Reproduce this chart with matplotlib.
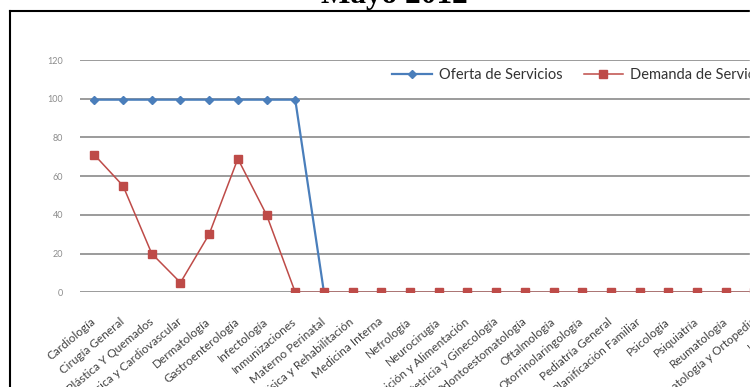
import numpy as np
import matplotlib
matplotlib.use("Agg")
import matplotlib.pyplot as plt
from matplotlib.lines import Line2D
from matplotlib.patches import Rectangle

categorias = [
    "Cardiología", "Cirugía General", "Cirugía Plástica Y Quemados",
    "Cirugía Torácica y Cardiovascular", "Dermatología", "Gastroenterología",
    "Infectología", "Inmunizaciones", "Materno Perinatal",
    "Medicina Física y Rehabilitación", "Medicina Interna", "Nefrología",
    "Neurocirugía", "Nutrición y Alimentación", "Obstetricia y Ginecología",
    "Odontoestomatología", "Oftalmología", "Otorrinolaringología",
    "Pediatría General", "Planificación Familiar", "Psicología",
    "Psiquiatría", "Reumatología", "Traumatología y Ortopedia", "Urología",
]
oferta = [99.5, 99.5, 99.5, 99.5, 99.5, 99.5, 99.5, 99.5, 0]
demanda = [71, 55, 20, 5, 30, 69, 40, 0, 0, 0, 0, 0, 0, 0, 0, 0, 0, 0,
           0, 0, 0, 0, 0, 0, 0]
yticks = [0, 20, 40, 60, 80, 100, 120]

W, H = 756, 387
fig = plt.figure(figsize=(W / 100, H / 100), dpi=100)
fig.patch.set_facecolor("white")

# plot area runs past the right edge of the image
x0, x1 = 80, 797.5
y0, y1 = 292.3, 60
ax = fig.add_axes([x0 / W, (H - y0) / H, (x1 - x0) / W, (y0 - y1) / H])
ax.set_xlim(-0.5, len(categorias) - 0.5)
ax.set_ylim(0, 120)

for v in yticks:
    ax.axhline(v, color="#8a8a8a", lw=1.2, zorder=1)

xs = np.arange(len(categorias))
ax.plot(xs[:len(oferta)], oferta, color="#4a7ebb", lw=1.6, marker="D",
        ms=4, zorder=3, label="Oferta de Servicios")
ax.plot(xs, demanda, color="#be4b48", lw=1.1, marker="s", ms=6,
        zorder=3, label="Demanda de Servicios")

for s in ax.spines.values():
    s.set_visible(False)
ax.set_yticks(yticks)
ax.set_yticklabels([str(v) for v in yticks], fontsize=6.5, color="#8c8c8c",
                   family="Lato")
ax.tick_params(axis="y", length=0, pad=12)
ax.set_xticks(xs)
ax.set_xticklabels(categorias, rotation=40, ha="right", va="center",
                   rotation_mode="anchor", fontsize=8.5, color="#404040",
                   family="Lato")
ax.tick_params(axis="x", length=0, pad=20)

leg = ax.legend(loc="center left", bbox_to_anchor=(0.425, 0.935), ncol=2,
                frameon=False, borderpad=0, handlelength=2.7,
                handletextpad=0.5, columnspacing=1.45,
                prop={"family": "Lato", "size": 10.5})
for t in leg.get_texts():
    t.set_color("#333333")

# chart frame and title
fig.add_artist(Line2D([10 / W, 10 / W], [0, (H - 11) / H], color="black",
                      lw=1.5, transform=fig.transFigure))
fig.add_artist(Line2D([10 / W, 1], [(H - 11) / H, (H - 11) / H],
                      color="black", lw=1.5, transform=fig.transFigure))
fig.text(394 / W, (H - 3) / H, "Mayo 2012", ha="center", va="baseline",
         fontsize=22.5, fontweight="bold", family="Liberation Serif")

# blank strip on the right edge
fig.add_artist(Rectangle((750 / W, 0), 6 / W, 1, color="white", zorder=10,
                         transform=fig.transFigure))

fig.savefig("out.png", dpi=100)
